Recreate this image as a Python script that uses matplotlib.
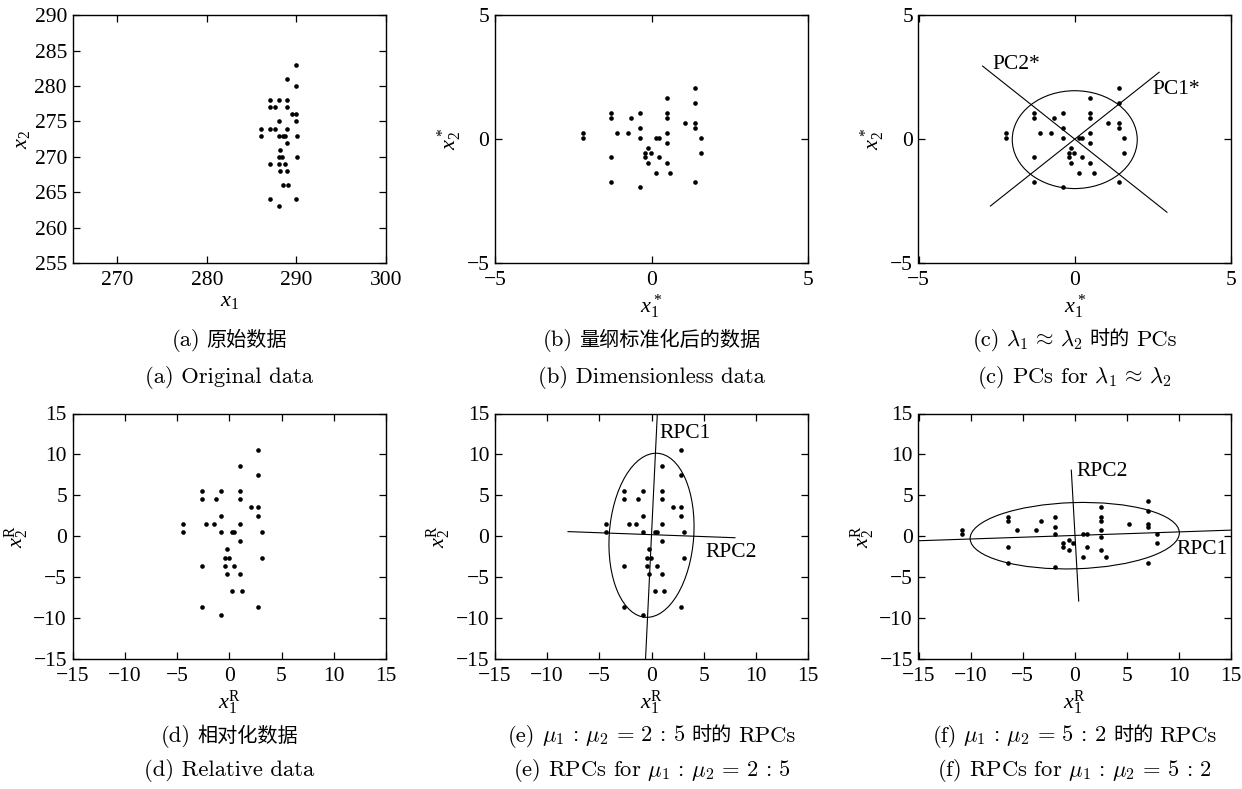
import matplotlib
matplotlib.use('Agg')
import matplotlib.pyplot as plt
from matplotlib.patches import Ellipse
from matplotlib.offsetbox import TextArea, HPacker, AnchoredOffsetbox

plt.rcParams['font.family'] = ['Liberation Serif', 'Noto Sans CJK SC']
plt.rcParams['mathtext.fontset'] = 'custom'
plt.rcParams['mathtext.rm'] = 'Liberation Serif'
plt.rcParams['mathtext.it'] = 'Liberation Serif:italic'
plt.rcParams['mathtext.bf'] = 'Liberation Serif:bold'
plt.rcParams['axes.unicode_minus'] = True

# ---------------- data ----------------
# (a) original data
a_x1 = [290, 289, 290, 287, 288, 289, 287, 287.6, 289, 289.5, 290, 288, 290,
        286, 287.1, 287.6, 289, 286, 288, 288.5, 288.7, 290.1, 289, 288.2,
        288.1, 288.4, 290.1, 287, 288.1, 288.7, 288.2, 289, 288.5, 289.1,
        287, 290, 288]
a_x2 = [283, 281, 280, 278, 278, 278, 277, 277, 277, 276, 276, 275, 275,
        274, 274, 274, 274, 273, 273, 273, 273, 273, 272, 271,
        270, 270, 270, 269, 269, 269, 268, 268, 266, 266,
        264, 264, 263]
# (b), (c) dimensionless data
b_x1 = [1.40, 0.50, 1.40, -1.29, -0.38, 0.50, -1.29, -0.66, 0.50, 1.06, 1.40,
        -0.38, 1.40, -2.19, -1.11, -0.75, 0.50, -2.19, -0.38, 0.14, 0.23, 1.59,
        0.50, -0.11, -0.20, -0.03, 1.59, -1.29, -0.20, 0.23, -0.11, 0.50, 0.14,
        0.60, -1.29, 1.40, -0.38]
b_x2 = [2.08, 1.67, 1.47, 1.06, 1.06, 1.06, 0.86, 0.86, 0.86, 0.66, 0.66,
        0.46, 0.46, 0.26, 0.26, 0.26, 0.26, 0.05, 0.05, 0.05, 0.05, 0.05,
        -0.15, -0.35, -0.55, -0.55, -0.55, -0.74, -0.74, -0.74, -0.96, -0.96, -1.36,
        -1.36, -1.75, -1.75, -1.95]
# (d), (e) relative data
d_x1 = [2.78, 0.99, 2.78, -2.59, -0.80, 0.99, -2.59, -1.31, 0.99, 2.08, 2.78,
        -0.80, 2.78, -4.38, -2.20, -1.50, 0.99, -4.38, -0.80, 0.29, 0.48, 3.16,
        0.99, -0.26, -0.45, -0.06, 3.16, -2.59, -0.45, 0.48, -0.26, 0.99, 0.29,
        1.18, -2.59, 2.78, -0.80]
d_x2 = [10.58, 8.54, 7.52, 5.52, 5.52, 5.52, 4.50, 4.50, 4.50, 3.51, 3.51,
        2.49, 2.49, 1.43, 1.43, 1.43, 1.43, 0.45, 0.45, 0.45, 0.45, 0.45,
        -0.57, -1.59, -2.62, -2.62, -2.62, -3.60, -3.60, -3.60, -4.62, -4.62, -6.66,
        -6.66, -8.66, -8.66, -9.69]
# (f) weighted relative data
f_x1 = [7.04, 2.56, 7.04, -6.40, -6.40, 2.56, 2.56, -3.26, -1.89, -1.89, -5.53,
        -3.71, 2.56, 5.24, 7.04, 7.04, -10.87, -10.87, -1.89, 0.77, 1.22, 7.93,
        2.56, -0.58, -1.12, -1.12, -0.13, 7.93, -0.58, -6.40, 1.22, 2.56, 0.77,
        3.01, -6.40, -1.89, 7.04]
f_x2 = [4.28, 3.51, 3.06, 2.28, 1.88, 2.28, 1.88, 1.88, 2.28, 1.10, 0.69,
        0.69, 0.69, 1.47, 1.47, 1.10, 0.69, 0.29, 0.29, 0.29, 0.29, 0.29,
        -0.12, -0.53, -0.90, -1.30, -0.90, -0.90, -1.71, -1.30, -1.30, -1.71, -2.53,
        -2.53, -3.34, -3.75, -3.34]

# principal component lines / ellipses (data coords)
c_pc1 = ([-2.70, 2.70], [-2.70, 2.70])
c_pc2 = ([-2.95, 2.95], [2.95, -2.95])
c_ell = dict(xy=(0.0, -0.02), width=4.0, height=3.95, angle=0)
e_rpc1 = ([-0.57, 0.56], [-15.0, 15.0])
e_rpc2 = ([-8.0, 8.0], [0.55, -0.2])
e_ell = dict(xy=(0.0, 0.1), width=20.1, height=8.1, angle=87)
f_rpc1 = ([-15.0, 15.0], [-0.57, 0.73])
f_rpc2 = ([-0.33, 0.38], [8.07, -7.95])
f_ell = dict(xy=(0.0, 0.05), width=20.1, height=8.1, angle=2.3)

ticks_a_x = [270, 280, 290, 300]
ticks_a_y = [255, 260, 265, 270, 275, 280, 285, 290]
ticks_b = [-5, 0, 5]
ticks_d = [-15, -10, -5, 0, 5, 10, 15]

# ---------------- figure ----------------
W, H = 1242, 789
fig = plt.figure(figsize=(W / 100, H / 100), dpi=100)


def add_ax(l, r, t, b):
    return fig.add_axes([l / W, 1 - b / H, (r - l) / W, (b - t) / H])


cols = [(72.5, 386), (495, 808), (918.5, 1231)]
rows = [(15.3, 263), (413.5, 658.7)]


def style(ax, xlim, ylim, xt, yt, xl, yl):
    ax.set_xlim(xlim)
    ax.set_ylim(ylim)
    ax.set_xticks(xt)
    ax.set_yticks(yt)
    ax.tick_params(direction='in', top=True, right=True, length=5, width=0.9,
                   labelsize=15.5)
    ax.tick_params(axis='x', pad=6)
    ax.tick_params(axis='y', pad=4)
    for s in ax.spines.values():
        s.set_linewidth(1.0)
    ax.set_xlabel(xl, fontsize=16, labelpad=1.5)
    ax.set_ylabel(yl, fontsize=16, labelpad=2)


dot = dict(s=11, c='black', linewidths=0, zorder=3)
lw = 0.8

# (a)
ax = add_ax(cols[0][0], cols[0][1], rows[0][0], rows[0][1])
ax.scatter(a_x1, a_x2, **dot)
style(ax, (265, 300), (255, 290), ticks_a_x, ticks_a_y, r'$x_1$', r'$x_2$')

# (b)
ax = add_ax(cols[1][0], cols[1][1], rows[0][0], rows[0][1])
ax.scatter(b_x1, b_x2, **dot)
style(ax, (-5, 5), (-5, 5), ticks_b, ticks_b, r'$x_1^*$', r'$x_2^*$')

# (c)
ax = add_ax(cols[2][0], cols[2][1], rows[0][0], rows[0][1])
ax.scatter(b_x1, b_x2, **dot)
ax.plot(*c_pc1, color='black', lw=lw)
ax.plot(*c_pc2, color='black', lw=lw)
ax.add_patch(Ellipse(fill=False, ec='black', lw=lw, **c_ell))
ax.text(-2.62, 3.02, 'PC2*', fontsize=15.5, va='center', ha='left')
ax.text(2.50, 2.00, 'PC1*', fontsize=15.5, va='center', ha='left')
style(ax, (-5, 5), (-5, 5), ticks_b, ticks_b, r'$x_1^*$', r'$x_2^*$')

# (d)
ax = add_ax(cols[0][0], cols[0][1], rows[1][0], rows[1][1])
ax.scatter(d_x1, d_x2, **dot)
style(ax, (-15, 15), (-15, 15), ticks_d, ticks_d, r'$x_1^{\mathrm{R}}$', r'$x_2^{\mathrm{R}}$')

# (e)
ax = add_ax(cols[1][0], cols[1][1], rows[1][0], rows[1][1])
ax.scatter(d_x1, d_x2, **dot)
ax.plot(*e_rpc1, color='black', lw=lw)
ax.plot(*e_rpc2, color='black', lw=lw)
ax.add_patch(Ellipse(fill=False, ec='black', lw=lw, **e_ell))
ax.text(0.72, 12.6, 'RPC1', fontsize=15.5, va='center', ha='left')
ax.text(5.2, -1.95, 'RPC2', fontsize=15.5, va='center', ha='left')
style(ax, (-15, 15), (-15, 15), ticks_d, ticks_d, r'$x_1^{\mathrm{R}}$', r'$x_2^{\mathrm{R}}$')

# (f)
ax = add_ax(cols[2][0], cols[2][1], rows[1][0], rows[1][1])
ax.scatter(f_x1, f_x2, **dot)
ax.plot(*f_rpc1, color='black', lw=lw)
ax.plot(*f_rpc2, color='black', lw=lw)
ax.add_patch(Ellipse(fill=False, ec='black', lw=lw, **f_ell))
ax.text(0.13, 7.86, 'RPC2', fontsize=15.5, va='center', ha='left')
ax.text(9.78, -1.6, 'RPC1', fontsize=15.5, va='center', ha='left')
style(ax, (-15, 15), (-15, 15), ticks_d, ticks_d, r'$x_1^{\mathrm{R}}$', r'$x_2^{\mathrm{R}}$')

# ---------------- captions ----------------
CM = dict(family='cmr10', size=16.3, math_fontfamily='cm')
CJ = dict(family='Noto Sans CJK SC', size=14.5)


def caption(xc, yc, pieces, sep=4.5):
    children = [TextArea(t, textprops=(CJ if k == 'cjk' else CM)) for t, k in pieces]
    box = HPacker(children=children, align='baseline', pad=0, sep=sep)
    anc = AnchoredOffsetbox(loc='center', child=box, pad=0, borderpad=0, frameon=False,
                            bbox_to_anchor=(xc / W, 1 - yc / H),
                            bbox_transform=fig.transFigure)
    fig.add_artist(anc)


xc = [(c[0] + c[1]) / 2 for c in cols]
zh_y = [340, 736]
en_y = [377, 771]

lam = r'$\lambda_1 \, \approx \, \lambda_2$'
mu25 = r'$\mu_1 \,:\, \mu_2 \, = \, 2 \,:\, 5$'
mu52 = r'$\mu_1 \,:\, \mu_2 \, = \, 5 \,:\, 2$'

caption(xc[0], zh_y[0], [('(a)', 'cm'), ('原始数据', 'cjk')])
caption(xc[1], zh_y[0], [('(b)', 'cm'), ('量纲标准化后的数据', 'cjk')])
caption(xc[2], zh_y[0], [('(c)', 'cm'), (lam, 'cm'), ('时的', 'cjk'), ('PCs', 'cm')])
caption(xc[0], zh_y[1], [('(d)', 'cm'), ('相对化数据', 'cjk')])
caption(xc[1], zh_y[1], [('(e)', 'cm'), (mu25, 'cm'), ('时的', 'cjk'), ('RPCs', 'cm')])
caption(xc[2], zh_y[1], [('(f)', 'cm'), (mu52, 'cm'), ('时的', 'cjk'), ('RPCs', 'cm')])

caption(xc[0], en_y[0], [('(a) Original data', 'cm')])
caption(xc[1], en_y[0], [('(b) Dimensionless data', 'cm')])
caption(xc[2], en_y[0], [('(c) PCs for ' + lam, 'cm')])
caption(xc[0], en_y[1], [('(d) Relative data', 'cm')])
caption(xc[1], en_y[1], [('(e) RPCs for ' + mu25, 'cm')])
caption(xc[2], en_y[1], [('(f) RPCs for ' + mu52, 'cm')])

fig.savefig('out.png', dpi=100)
